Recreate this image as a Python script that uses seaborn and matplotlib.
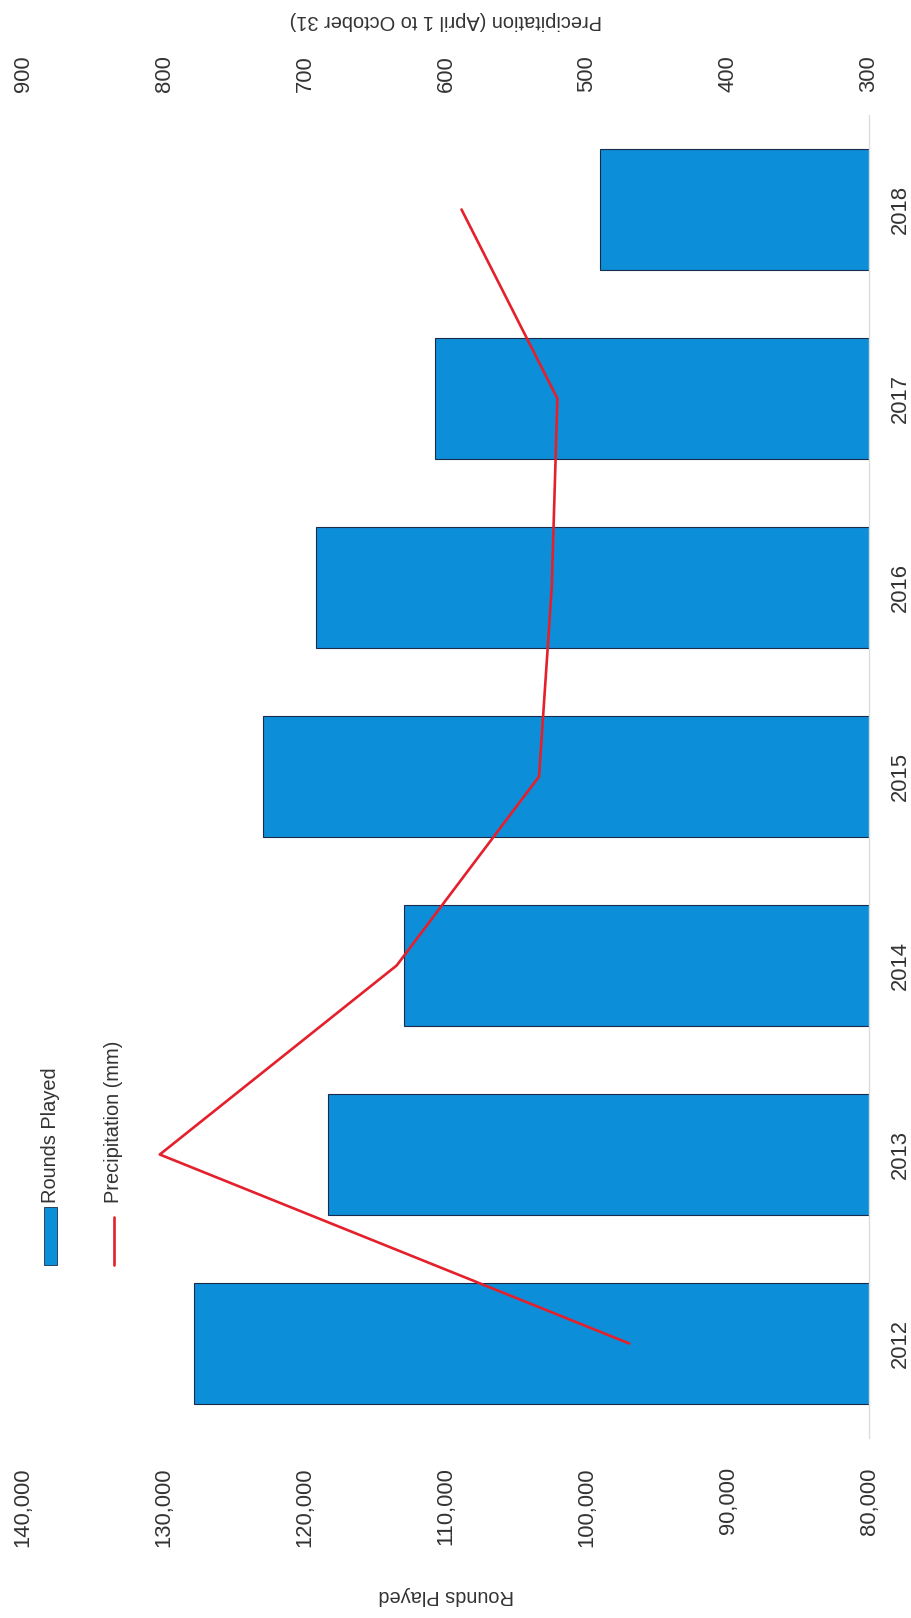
import matplotlib
matplotlib.use("Agg")
import matplotlib.pyplot as plt
from matplotlib.patches import Rectangle
from matplotlib.lines import Line2D
from matplotlib.ticker import FuncFormatter
import seaborn as sns
import pandas as pd

# Data
years = ["2012", "2013", "2014", "2015", "2016", "2017", "2018"]
rounds_played = [127900, 118400, 113000, 123000, 119200, 110800, 99100]
precipitation_mm = [470, 803, 635, 534, 525, 521, 589]
rounds_ticks = [80000, 90000, 100000, 110000, 120000, 130000, 140000]
precip_ticks = [300, 400, 500, 600, 700, 800, 900]

BLUE = "#0d8ed8"
EDGE = "#1b2c4a"
RED = "#e3202c"
TEXT = "#333333"

sns.set_theme(style="white")
plt.rcParams["font.family"] = ["Liberation Sans", "DejaVu Sans"]
plt.rcParams["text.color"] = TEXT
plt.rcParams["xtick.color"] = TEXT
plt.rcParams["ytick.color"] = TEXT

W, H = 912, 1618
fig = plt.figure(figsize=(W / 100, H / 100), dpi=100)
fig.patch.set_facecolor("white")

# Plot area (pixel box converted to figure fractions)
left, right, top, bottom = 23, 869, 115, 1438
ax = fig.add_axes([left / W, 1 - bottom / H, (right - left) / W, (bottom - top) / H])

df = pd.DataFrame({"Year": years, "Rounds": rounds_played, "Precip": precipitation_mm})
order = years[::-1]  # latest year at the top

sns.barplot(data=df, x="Rounds", y="Year", order=order, orient="h",
            color=BLUE, saturation=1, width=0.64, edgecolor=EDGE, linewidth=0.8, ax=ax)

ax.set_xlim(140000, 80000)
ax.set_xticks(rounds_ticks)
ax.xaxis.set_major_formatter(FuncFormatter(lambda v, _: f"{int(v):,}"))
ax.tick_params(axis="x", bottom=True, labelbottom=True, length=0, pad=21,
               labelrotation=90, labelsize=15.8)
ax.yaxis.tick_right()
ax.tick_params(axis="y", length=0, pad=15, labelrotation=90, labelsize=15.8)
for t in ax.yaxis.get_majorticklabels():
    t.set_va("center")
    t.set_ha("left")

# Precipitation on the secondary axis
ax2 = ax.twiny()
df["pos"] = [order.index(y) for y in df["Year"]]
sns.lineplot(data=df, x="Precip", y="pos", sort=False, orient="y",
             color=RED, linewidth=1.9, ax=ax2)
ax2.set_xlim(900, 300)
ax2.set_xticks(precip_ticks)
ax2.tick_params(axis="x", top=True, labeltop=True, length=0, pad=16.5,
                labelrotation=90, labelsize=15.8)
ax.set_ylim(len(order) - 0.5, -0.5)

for a in (ax, ax2):
    for s in a.spines.values():
        s.set_visible(False)
ax.spines["right"].set_visible(True)
ax.spines["right"].set_color("#dcdcdc")
ax.spines["right"].set_linewidth(1.0)

ax.set_ylabel("")
ax.set_xlabel("Rounds Played", rotation=180, fontsize=14.4, color=TEXT, va="center", ha="center")
ax.xaxis.set_label_coords(0.5, (bottom - 1596) / (bottom - top))
ax2.set_ylabel("")
ax2.set_xlabel("Precipitation (April 1 to October 31)", rotation=180, fontsize=14.4,
               color=TEXT, va="center", ha="center")
ax2.xaxis.set_label_coords(0.5, (bottom - 20) / (bottom - top))

# Legend, drawn with the same rotated layout as the axes text
fig.patches.append(Rectangle((44 / W, 1 - 1265 / H), 13 / W, 58 / H, transform=fig.transFigure,
                             facecolor=BLUE, edgecolor=EDGE, linewidth=0.6))
fig.text(50.5 / W, 1 - 1203 / H, "Rounds Played", rotation=90, ha="center", va="bottom",
         fontsize=14.4, color=TEXT)
fig.lines.append(Line2D([114 / W, 114 / W], [1 - 1265 / H, 1 - 1217 / H],
                        transform=fig.transFigure, color=RED, linewidth=1.9))
fig.text(114 / W, 1 - 1203 / H, "Precipitation (mm)", rotation=90, ha="center", va="bottom",
         fontsize=14.4, color=TEXT)

fig.savefig("out.png", dpi=100, facecolor="white")
